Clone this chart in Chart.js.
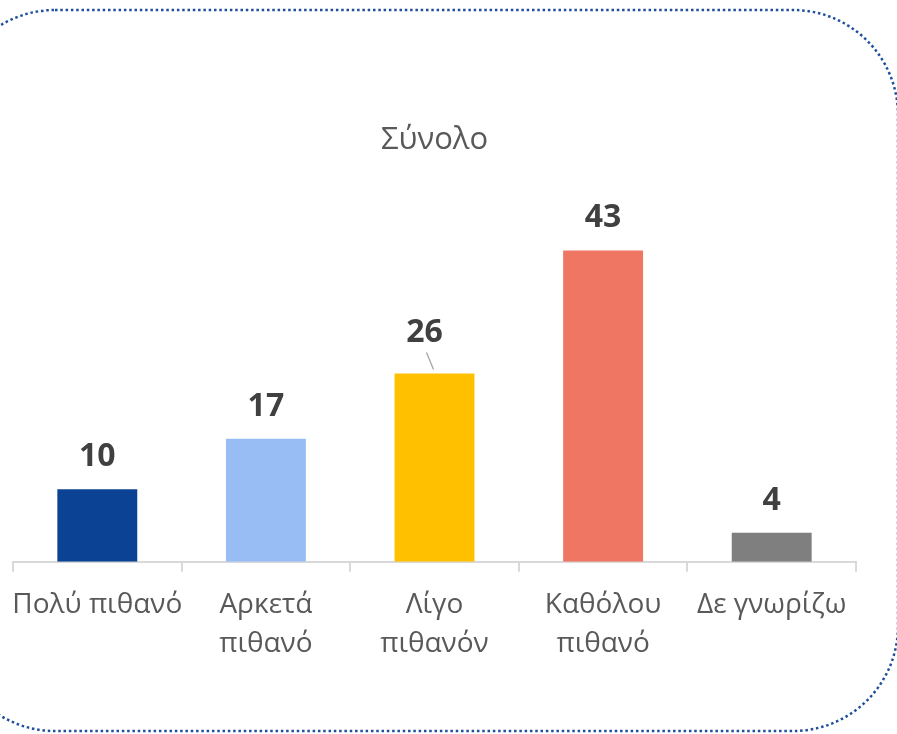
<!DOCTYPE html>
<html>
<head>
<meta charset="utf-8">
<script src="https://cdn.jsdelivr.net/npm/chart.js@4.4.1/dist/chart.umd.min.js"></script>
<style>
  html, body { margin: 0; padding: 0; background: #fff; }
  #wrap { width: 897px; height: 734px; }
</style>
</head>
<body>
<div id="wrap"><canvas id="mycanvas" width="897" height="734"></canvas></div>
<script>
var categories = ['Πολύ πιθανό', ['Αρκετά', 'πιθανό'], ['Λίγο', 'πιθανόν'], ['Καθόλου', 'πιθανό'], 'Δε γνωρίζω'];
var values = [10, 17, 26, 43, 4];
var barColors = ['#0c4293', '#97bdf4', '#ffc000', '#ef7663', '#7f7f7f'];
var chartTitle = 'Σύνολο';

// dotted rounded frame around the whole picture
var framePlugin = {
	id: 'frame',
	beforeDraw: function(chart){
		var ctx = chart.ctx;
		var l = -50, t = 10, r = 898, b = 731, rad = 105;
		ctx.save();
		ctx.strokeStyle = '#1d4f9c';
		ctx.lineWidth = 2.5;
		ctx.setLineDash([2.5, 2.8]);
		ctx.beginPath();
		ctx.moveTo(l + rad, t);
		ctx.lineTo(r - rad, t);
		ctx.arcTo(r, t, r, t + rad, rad);
		ctx.lineTo(r, b - rad);
		ctx.arcTo(r, b, r - rad, b, rad);
		ctx.lineTo(l + rad, b);
		ctx.arcTo(l, b, l, b - rad, rad);
		ctx.lineTo(l, t + rad);
		ctx.arcTo(l, t, l + rad, t, rad);
		ctx.stroke();
		ctx.restore();
	}
};

// value labels above the bars
var valuePlugin = {
	id: 'values',
	afterDatasetsDraw: function(chart){
		var ctx = chart.ctx;
		var meta = chart.getDatasetMeta(0);
		ctx.save();
		ctx.font = 'bold 32px "Open Sans"';
		ctx.fillStyle = '#404040';
		ctx.textAlign = 'center';
		ctx.textBaseline = 'alphabetic';
		meta.data.forEach(function(bar, i){
			var v = chart.data.datasets[0].data[i];
			if(i === 2){
				// this label was moved off the bar, with a leader line
				ctx.fillText(v, bar.x - 10, bar.y - 31);
				ctx.strokeStyle = '#a6a6a6';
				ctx.lineWidth = 1.3;
				ctx.beginPath();
				ctx.moveTo(bar.x - 8, bar.y - 21);
				ctx.lineTo(bar.x - 1, bar.y - 4);
				ctx.stroke();
			} else {
				ctx.fillText(v, bar.x, bar.y - 23);
			}
		});
		ctx.restore();
	}
};

var chartdata = {
	labels: categories,
	datasets: [{
		data: values,
		backgroundColor: barColors,
		borderWidth: 0,
		categoryPercentage: 1,
		barPercentage: 0.474
	}]
};

var ctx = document.getElementById('mycanvas');
var barGraph = new Chart(ctx, {
	type: 'bar',
	data: chartdata,
	plugins: [framePlugin, valuePlugin],
	options: {
		responsive: false,
		animation: false,
		layout: { padding: { left: 13, right: 41, top: 0, bottom: 57 } },
		plugins: {
			legend: { display: false },
			tooltip: { enabled: false },
			title: {
				display: true,
				text: chartTitle,
				color: '#595959',
				font: { family: 'Open Sans', size: 31, weight: 'normal', lineHeight: 1.2 },
				padding: { top: 122, bottom: 55 }
			}
		},
		scales: {
			y: { display: false, min: 0, max: 48 },
			x: {
				afterFit: function(scale){
					// the labels fit their categories, no side padding wanted
					scale.paddingLeft = 0;
					scale.paddingRight = 0;
				},
				grid: { drawOnChartArea: false, color: '#d9d9d9', lineWidth: 2, tickLength: 10 },
				border: { color: '#d9d9d9', width: 2 },
				ticks: {
					color: '#595959',
					padding: 14,
					maxRotation: 0,
					autoSkip: false,
					font: { family: 'Open Sans', size: 28, lineHeight: 1.38 }
				}
			}
		}
	}
});
</script>
</body>
</html>
